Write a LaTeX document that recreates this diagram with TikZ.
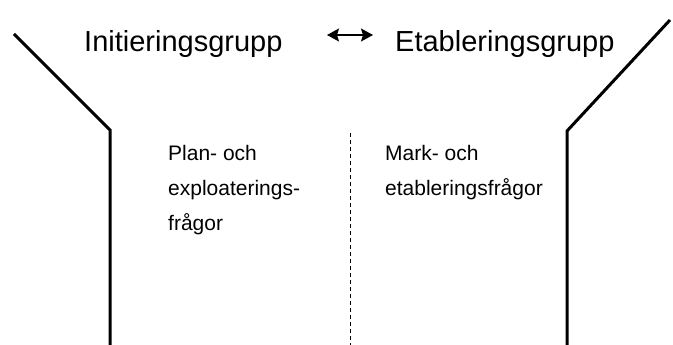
\documentclass[tikz,border=0pt]{standalone}
\usepackage{fontspec}
\setmainfont{Liberation Sans}
\usetikzlibrary{arrows.meta}
\tikzset{
  wall/.style={line width=3pt, line join=miter},
  rubrik/.style={inner sep=0pt, anchor=base west, font=\fontsize{29}{34}\selectfont},
  fraga/.style={inner sep=0pt, anchor=base west, align=left, font=\fontsize{21}{35}\selectfont},
  dubbelpil/.style={{Stealth[length=12pt,width=13pt,inset=2pt]}-{Stealth[length=12pt,width=13pt,inset=2pt]}, line width=1.2pt}
}
\begin{document}
\begin{tikzpicture}[x=1pt, y=-1pt, line cap=butt]
  \useasboundingbox (0,0) rectangle (673,345);
  \draw[wall] (14,34) -- (110,130) -- (110,345);
  \draw[wall] (670,20) -- (567,131) -- (567,345);
  \draw[dashed, line width=0.8pt, dash pattern=on 4pt off 3pt] (350,133) -- (350,345);
  \node[rubrik] (init) at (84,52) {Initieringsgrupp};
  \node[rubrik] (etab) at (395,52) {Etableringsgrupp};
  \coordinate (al) at (327,35);
  \coordinate (ar) at (373,35);
  \draw[dubbelpil] (al) -- (ar);
  % base = baseline of the last line
  \node[fraga] (plan) at (168,230) {Plan- och\\exploaterings-\\frågor};
  \node[fraga] (mark) at (385,195) {Mark- och\\etableringsfrågor};
\end{tikzpicture}
\end{document}
